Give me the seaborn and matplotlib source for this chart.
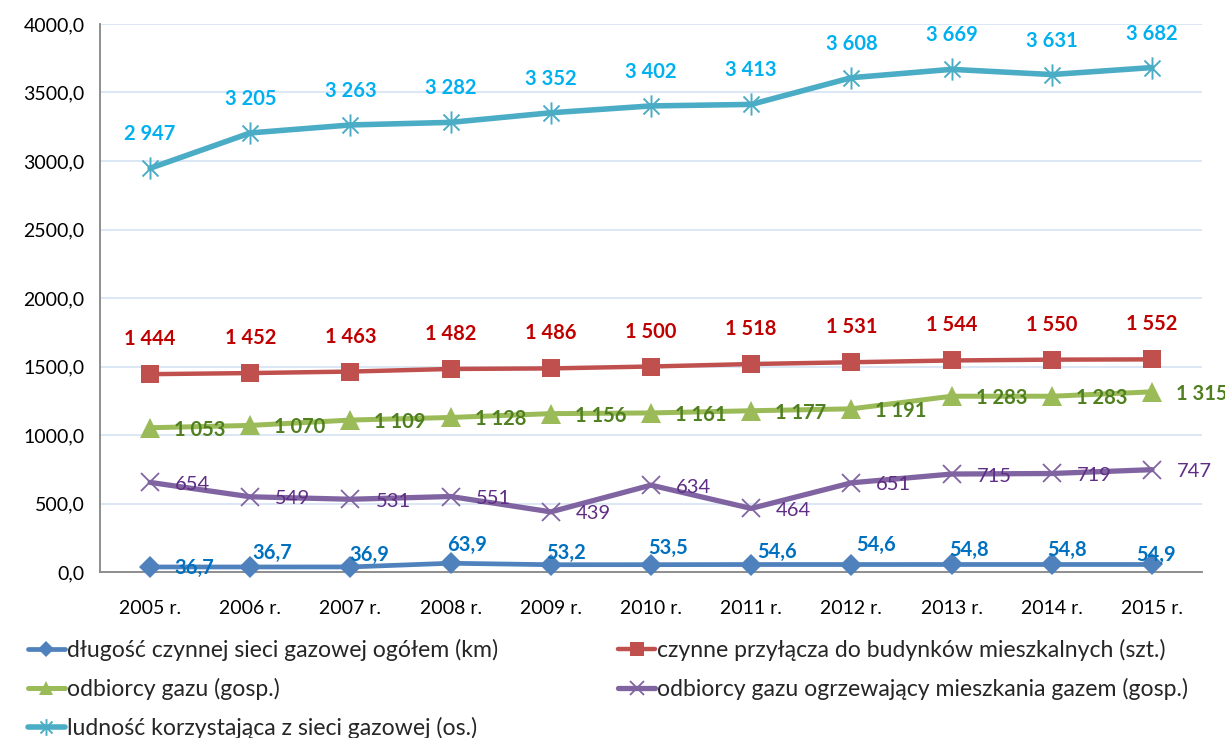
import numpy as np
import pandas as pd
import matplotlib
matplotlib.use("Agg")
import matplotlib.pyplot as plt
from matplotlib.path import Path
from matplotlib.lines import Line2D
import seaborn as sns

# --- data -----------------------------------------------------------------
years = ["2005 r.", "2006 r.", "2007 r.", "2008 r.", "2009 r.", "2010 r.",
         "2011 r.", "2012 r.", "2013 r.", "2014 r.", "2015 r."]

siec_km = [36.7, 36.7, 36.9, 63.9, 53.2, 53.5, 54.6, 54.6, 54.8, 54.8, 54.9]
przylacza = [1444, 1452, 1463, 1482, 1486, 1500, 1518, 1531, 1544, 1550, 1552]
odbiorcy = [1053, 1070, 1109, 1128, 1156, 1161, 1177, 1191, 1283, 1283, 1315]
ogrzewajacy = [654, 549, 531, 551, 439, 634, 464, 651, 715, 719, 747]
ludnosc = [2947, 3205, 3263, 3282, 3352, 3402, 3413, 3608, 3669, 3631, 3682]

series_names = [
    "długość czynnej sieci gazowej ogółem (km)",
    "czynne przyłącza do budynków mieszkalnych (szt.)",
    "odbiorcy gazu (gosp.)",
    "odbiorcy gazu ogrzewający mieszkania gazem (gosp.)",
    "ludność korzystająca z sieci gazowej (os.)",
]

yticks = np.arange(0, 4001, 500)

# --- styling ----------------------------------------------------------------
sns.set_theme(style="white")
plt.rcParams["font.family"] = ["Lato", "DejaVu Sans"]

# asterisk marker: vertical stroke plus a cross
d = 0.72
asterisk = Path(
    [(0, -1), (0, 1), (-d, -d), (d, d), (-d, d), (d, -d)],
    [Path.MOVETO, Path.LINETO, Path.MOVETO, Path.LINETO, Path.MOVETO, Path.LINETO],
)

styles = [
    dict(color="#4F81BD", marker="D", ms=11, lw=3.4, mew=0, label_color="#0070C0", bold=True),
    dict(color="#C0504D", marker="s", ms=13, lw=3.2, mew=0, label_color="#C00000", bold=True),
    dict(color="#9BBB59", marker="^", ms=14, lw=3.6, mew=0, label_color="#4F7F1F", bold=True),
    dict(color="#8064A2", marker="x", ms=13, lw=3.8, mew=1.3, label_color="#5F2D84", bold=False),
    dict(color="#4BACC6", marker=asterisk, ms=16, lw=4.0, mew=1.4, label_color="#00B0F0", bold=True),
]

fig = plt.figure(figsize=(12.25, 7.38), dpi=100)
ax = fig.add_axes([100 / 1225, 1 - 572 / 738, 1102 / 1225, 548 / 738])

x = np.arange(len(years))
all_values = [siec_km, przylacza, odbiorcy, ogrzewajacy, ludnosc]

for name, vals, st in zip(series_names, all_values, styles):
    df = pd.DataFrame({"x": x, "y": vals})
    mk = st["marker"]
    filled = mk in ("D", "s", "^")
    sns.lineplot(
        data=df, x="x", y="y", ax=ax, color=st["color"], lw=st["lw"],
        marker=mk, markersize=st["ms"],
        markerfacecolor=st["color"] if filled else "none",
        markeredgecolor=st["color"], markeredgewidth=st["mew"],
        label=name, legend=False, zorder=3, clip_on=False,
    )

# --- data labels ------------------------------------------------------------
def fmt_int(v):
    return f"{v:,.0f}".replace(",", " ")

def fmt_dec(v):
    return f"{v:.1f}".replace(".", ",")

lab_fs = 14.5
# offsets in pixels for the network length labels
km_offsets = [(44, -1), (22, 14), (19, 12), (16, 18), (15, 12), (17, 17),
              (26, 13), (25, 20), (17, 15), (15, 15), (4, 10)]
for xi, v, off in zip(x, siec_km, km_offsets):
    ax.annotate(fmt_dec(v), (xi, v), xytext=off, textcoords="offset pixels",
                ha="center", va="center", fontsize=lab_fs, fontweight="bold",
                color=styles[0]["label_color"], zorder=5, annotation_clip=False)

for xi, v in zip(x, przylacza):
    ax.annotate(fmt_int(v), (xi, v), xytext=(0, 35), textcoords="offset pixels",
                ha="center", va="center", fontsize=lab_fs, fontweight="bold",
                color=styles[1]["label_color"], zorder=5, annotation_clip=False)

for xi, v in zip(x, odbiorcy):
    ax.annotate(fmt_int(v), (xi, v), xytext=(24, -2), textcoords="offset pixels",
                ha="left", va="center", fontsize=lab_fs, fontweight="bold",
                color=styles[2]["label_color"], zorder=5, annotation_clip=False)

for xi, v in zip(x, ogrzewajacy):
    ax.annotate(fmt_int(v), (xi, v), xytext=(25, -2), textcoords="offset pixels",
                ha="left", va="center", fontsize=lab_fs, fontweight="normal",
                color=styles[3]["label_color"], zorder=5, annotation_clip=False)

for xi, v in zip(x, ludnosc):
    ax.annotate(fmt_int(v), (xi, v), xytext=(0, 34), textcoords="offset pixels",
                ha="center", va="center", fontsize=lab_fs, fontweight="bold",
                color=styles[4]["label_color"], zorder=5, annotation_clip=False)

# --- axes -------------------------------------------------------------------
ax.set_xlim(-0.5, len(years) - 0.5)
ax.set_ylim(0, 4000)
ax.set_yticks(yticks)
ax.set_yticklabels([f"{t:.1f}".replace(".", ",") for t in yticks], fontsize=14)
ax.set_xticks(x)
ax.set_xticklabels(years, fontsize=14)
ax.set_xticks(np.arange(-0.5, len(years), 1.0), minor=True)
ax.tick_params(axis="x", which="major", length=0, pad=20, colors="black")
ax.tick_params(axis="x", which="minor", length=7, width=1.2, color="#868686", direction="out")
ax.tick_params(axis="y", which="major", length=7, width=1.2, color="#868686",
               direction="out", pad=4, colors="black")
ax.tick_params(axis="y", colors="#868686", labelcolor="black")
ax.set_xlabel("")
ax.set_ylabel("")

ax.grid(axis="y", color="#D6E3F4", lw=1.2, zorder=0)
ax.grid(axis="x", visible=False)
for side in ("top", "right"):
    ax.spines[side].set_visible(False)
for side in ("left", "bottom"):
    ax.spines[side].set_color("#868686")
    ax.spines[side].set_linewidth(1.3)
ax.set_axisbelow(True)

# --- legend -----------------------------------------------------------------
handles = []
for name, st in zip(series_names, styles):
    mk = st["marker"]
    filled = mk in ("D", "s", "^")
    handles.append(Line2D([], [], color=st["color"], lw=st["lw"], marker=mk,
                          markersize=st["ms"] * 0.75,
                          markerfacecolor=st["color"] if filled else "none",
                          markeredgecolor=st["color"], markeredgewidth=st["mew"],
                          label=name))
order = [0, 2, 4, 1, 3]
fig.legend([handles[i] for i in order], [series_names[i] for i in order],
           loc="upper left", bbox_to_anchor=(28 / 1225, 1 - 639 / 738),
           ncol=2, frameon=False, fontsize=16.6, handlelength=1.6,
           handletextpad=0.1, columnspacing=5.2, labelspacing=0.74,
           borderaxespad=0, borderpad=0)

fig.savefig("out.png", dpi=100)
